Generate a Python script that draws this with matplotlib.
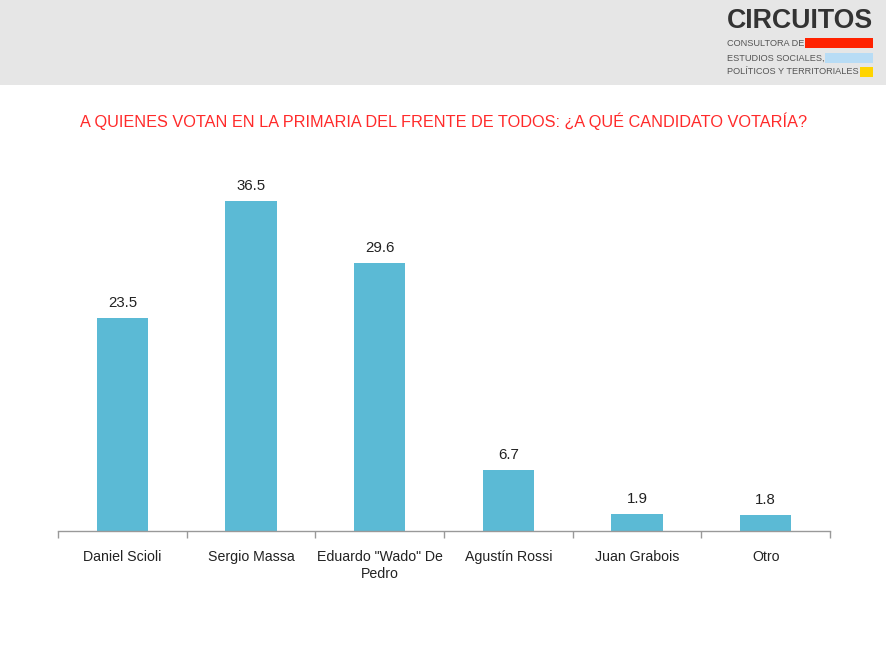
import matplotlib
matplotlib.use("Agg")
import matplotlib.pyplot as plt
from matplotlib.patches import Rectangle

categories = ["Daniel Scioli", "Sergio Massa", "Eduardo \"Wado\" De\nPedro",
              "Agustín Rossi", "Juan Grabois", "Otro"]
values = [23.5, 36.5, 29.6, 6.7, 1.9, 1.8]
value_labels = ["23.5", "36.5", "29.6", "6.7", "1.9", "1.8"]
title = "A QUIENES VOTAN EN LA PRIMARIA DEL FRENTE DE TODOS: ¿A QUÉ CANDIDATO VOTARÍA?"

plt.rcParams['font.family'] = ['Liberation Sans', 'DejaVu Sans']

W, H = 887, 665
fig = plt.figure(figsize=(W / 100, H / 100), dpi=100)
fig.patch.set_facecolor("white")

# header band
fig.patches.append(Rectangle((0, 1 - 85 / H), 1, 85 / H, transform=fig.transFigure,
                             facecolor="#e6e6e6", edgecolor="none", zorder=0))
fig.text(727 / W, 1 - 21 / H, "CIRCUITOS", fontsize=19.3, fontweight="heavy",
         color="#333333", ha="left", va="center")
logo_lines = ["CONSULTORA DE", "ESTUDIOS SOCIALES,", "POLÍTICOS Y TERRITORIALES"]
logo_cols = ["#ff2200", "#b8dcf5", "#ffd400"]
logo_y = [43, 58, 72]
fig.canvas.draw()
renderer = fig.canvas.get_renderer()
for t, c, y in zip(logo_lines, logo_cols, logo_y):
    txt = fig.text(727 / W, 1 - y / H, t, fontsize=6.6, color="#555555",
                   ha="left", va="center")
    bb = txt.get_window_extent(renderer=renderer)
    x0 = bb.x1 + 1
    fig.patches.append(Rectangle((x0 / W, 1 - (y + 5) / H), (873 - x0) / W, 10 / H,
                                 transform=fig.transFigure, facecolor=c,
                                 edgecolor="none"))

fig.text(444 / W, 1 - 121 / H, title, fontsize=11.7, color="#ff2a2a",
         ha="center", va="center")

left, right, bottom, top = 58, 830, 531, 151
ax = fig.add_axes([left / W, (H - bottom) / H, (right - left) / W, (bottom - top) / H])
x = list(range(len(categories)))
ax.bar(x, values, width=0.40, color="#5bbad5", zorder=2)
for xi, v, lab in zip(x, values, value_labels):
    ax.text(xi, v + 0.9, lab, ha="center", va="bottom", fontsize=10.8, color="#222222")

ax.set_xlim(-0.5, len(categories) - 0.5)
ax.set_ylim(0, 42)
for s in ["top", "right", "left"]:
    ax.spines[s].set_visible(False)
ax.spines["bottom"].set_color("#999999")
ax.spines["bottom"].set_linewidth(1.0)
ax.set_yticks([])
ax.set_xticks([i - 0.5 for i in range(len(categories) + 1)], minor=False)
ax.set_xticklabels([])
ax.tick_params(axis="x", length=5, color="#999999", width=1.0)
ax.set_xticks(x, minor=True)
ax.set_xticklabels(categories, minor=True, fontsize=10.2, color="#222222",
                   linespacing=1.2)
ax.tick_params(axis="x", which="minor", length=0, pad=14)

fig.savefig("out.png", dpi=100, facecolor="white")
